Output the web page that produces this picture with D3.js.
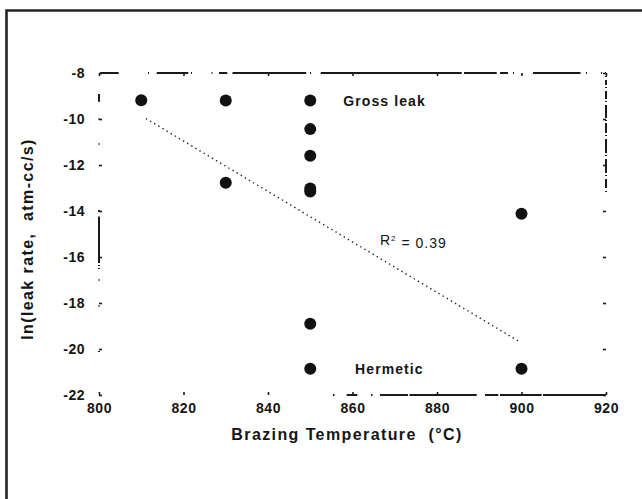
<!DOCTYPE html>
<html>
<head>
<meta charset="utf-8">
<script src="https://cdn.jsdelivr.net/npm/d3@7"></script>
<style>
  body { margin: 0; background: #fff; }
  text { font-family: 'Liberation Sans', Arial, sans-serif; fill: #151515; white-space: pre; }
</style>
</head>
<body>
<script>
// brazing temperature vs ln(leak rate) data
const tempC  = [810, 830, 850, 850, 850, 850, 850, 830, 900, 850, 850, 900];
const lnLeak = [-9.18, -9.2, -9.2, -10.44, -11.6, -13.02, -13.15, -12.77, -14.12, -18.9, -20.86, -20.86];

const xTicks = [800, 820, 840, 860, 880, 900, 920];
const yTicks = [-8, -10, -12, -14, -16, -18, -20, -22];
const yLabels = ['-8', '-10', '-12', '-14', '-16', '-18', '-20', '-22'];

// dotted fit line endpoints
const fitX = [811.1, 899.7];
const fitY = [-9.98, -19.7];

// notes inside the plot
const noteText = ['Gross leak', 'Hermetic'];
const noteX = [857.8, 860.6];
const noteY = [-9.2, -20.85];

var W = 642, H = 499;

var svg = d3.select('body')
  .append('svg')
  .attr('width', W)
  .attr('height', H)
  .style('display', 'block');

var x = d3.scaleLinear().domain([800, 920]).range([99, 606]);
var y = d3.scaleLinear().domain([-8, -22]).range([73, 395]);

// outer page border (top + left only, like the scan)
svg.append('path')
  .attr('d', 'M6.5,' + H + 'V10.5H' + W)
  .attr('fill', 'none')
  .attr('stroke', '#252525')
  .attr('stroke-width', 2.6);

// the scanned frame lines are broken up, mimic with dash patterns (px along each side)
function dash(segs, len) {
  var out = [0], pos = 0;
  segs.forEach(s => { out.push(s[0] - pos, s[1] - s[0]); pos = s[1]; });
  out.push(len - pos + 20);
  return out.join(',');
}
var topGaps = [[1.3,19.7],[49,50],[57.8,89.3],[92,93],[112.5,113.5],[120,128.2],[133.5,207.2],[211,212],
  [221.7,362.7],[365,397.7],[401,409],[414,415],[434,481.5],[487,488],[502,503],[506,507]];
var botGaps = [[234,235.5],[247.7,258.3],[272,273.5],[281,309],[310.5,377.7],[386,399.3],[401,442.7],[444,507]];
var leftGaps = [[21,28.7],[45.5,46.5],[70.5,71.5],[137,139],[143.5,190],[192,193],[195,196],[206.5,207.5],[232.5,233.5],[278,279]];
var rightGaps = [[0,1],[3,4],[7,12],[14,15],[18,26],[28,29],[32,45],[47,48],[50,60],[62,63],[66,80],[82,83],[86,100],[102,103],[106,115],[118,119]];

var x0 = x(800), x1 = x(920), y0 = y(-8), y1 = y(-22);
var frame = [
  { p: [x0, y0, x1, y0], d: dash(topGaps, x1 - x0) },
  { p: [x0, y1, x1, y1], d: dash(botGaps, x1 - x0) },
  { p: [x0, y0, x0, y1], d: dash(leftGaps, y1 - y0) },
  { p: [x1, y0, x1, y1], d: dash(rightGaps, y1 - y0) }
];
svg.append('g').selectAll('line')
  .data(frame)
  .enter()
  .append('line')
  .attr('x1', d => d.p[0]).attr('y1', d => d.p[1])
  .attr('x2', d => d.p[2]).attr('y2', d => d.p[3])
  .attr('stroke', '#1a1a1a')
  .attr('stroke-width', 2)
  .attr('stroke-dasharray', d => d.d);

// axes: inward ticks, no domain (frame drawn above)
function tidy(g) {
  g.select('.domain').remove();
  g.selectAll('.tick line').attr('stroke', '#1a1a1a').attr('stroke-width', 1.6);
  g.selectAll('.tick text')
    .style('font-size', '14px')
    .style('font-weight', 'bold')
    .style('letter-spacing', '0.5px')
    .attr('fill', '#151515');
}

svg.append('g')
  .attr('transform', 'translate(0,' + y1 + ')')
  .call(d3.axisBottom(x).tickValues(xTicks).tickSize(-3).tickPadding(8).tickFormat(d => String(d)))
  .call(tidy);

svg.append('g')
  .attr('transform', 'translate(0,' + y0 + ')')
  .call(d3.axisTop(x).tickValues(xTicks).tickSize(-3).tickFormat(''))
  .call(tidy);

svg.append('g')
  .attr('transform', 'translate(' + x0 + ',0)')
  .call(d3.axisLeft(y).tickValues(yTicks).tickSize(-3).tickPadding(14).tickFormat((d, i) => yLabels[i]))
  .call(tidy);

svg.append('g')
  .attr('transform', 'translate(' + x1 + ',0)')
  .call(d3.axisRight(y).tickValues(yTicks).tickSize(-3).tickFormat(''))
  .call(tidy);

// axis titles
svg.append('text')
  .attr('x', 347)
  .attr('y', 440)
  .attr('text-anchor', 'middle')
  .style('font-size', '16px')
  .style('font-weight', 'bold')
  .style('letter-spacing', '1.4px')
  .text('Brazing Temperature  (°C)');

svg.append('text')
  .attr('transform', 'translate(33,239) rotate(-90)')
  .attr('text-anchor', 'middle')
  .style('font-size', '16px')
  .style('font-weight', 'bold')
  .style('letter-spacing', '1.4px')
  .text('ln(leak rate,  atm-cc/s)');

// dotted fit line
svg.append('line')
  .attr('x1', x(fitX[0])).attr('y1', y(fitY[0]))
  .attr('x2', x(fitX[1])).attr('y2', y(fitY[1]))
  .attr('stroke', '#222')
  .attr('stroke-width', 1.4)
  .attr('stroke-dasharray', '1.4,3.4');

// data points
svg.append('g')
  .selectAll('circle')
  .data(tempC)
  .enter()
  .append('circle')
  .attr('cx', d => x(d))
  .attr('cy', (d, i) => y(lnLeak[i]))
  .attr('r', 6)
  .attr('fill', '#111');

// notes
svg.append('g')
  .selectAll('text')
  .data(noteText)
  .enter()
  .append('text')
  .attr('x', (d, i) => x(noteX[i]))
  .attr('y', (d, i) => y(noteY[i]))
  .attr('dy', '0.36em')
  .style('font-size', '14px')
  .style('font-weight', 'bold')
  .style('letter-spacing', '1.1px')
  .text(d => d);

var r2 = svg.append('text')
  .attr('x', x(866.5))
  .attr('y', y(-15.24))
  .attr('dy', '0.36em')
  .style('font-size', '14px')
  .style('letter-spacing', '1px');
r2.append('tspan').text('R');
r2.append('tspan').attr('dy', '-0.5em').style('font-size', '8px').text('2');
r2.append('tspan').attr('dy', '0.5em').text(' = 0.39');
</script>
</body>
</html>
